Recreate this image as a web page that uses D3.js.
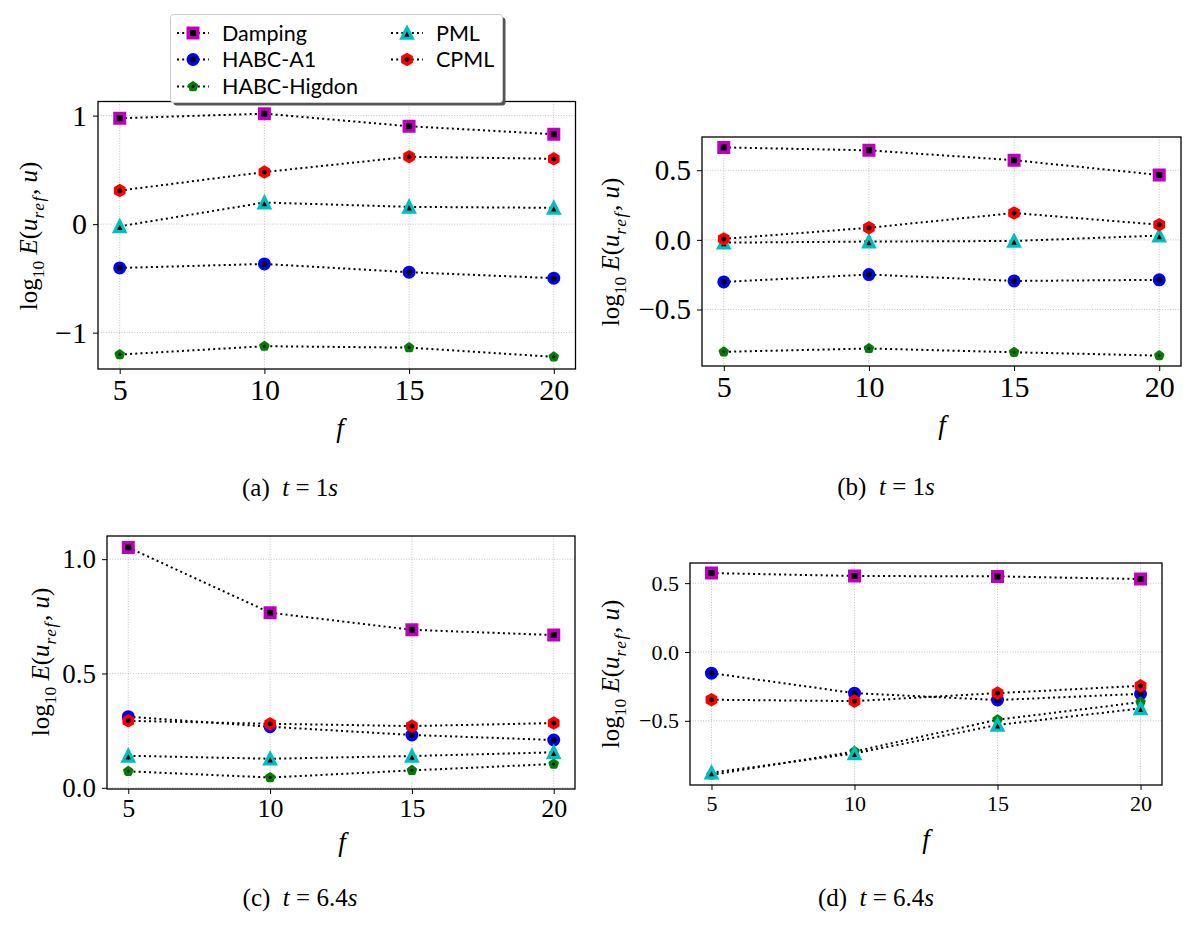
<!DOCTYPE html>
<html>
<head>
<meta charset="utf-8">
<script src="https://cdn.jsdelivr.net/npm/d3@7"></script>
<style>
  body { margin: 0; background: #fff; }
  text { fill: #000; }
</style>
</head>
<body>
<div id="chart"></div>
<script>
var svgWidth = 1195;
var svgHeight = 925;

// frequencies on the x axis
var freqs = [5, 10, 15, 20];
var methodNames = ["Damping", "HABC-A1", "HABC-Higdon", "PML", "CPML"];

// (a) t = 1s
var dampA = [0.976, 1.018, 0.902, 0.829];
var habcA1A = [-0.404, -0.367, -0.443, -0.498];
var higdonA = [-1.202, -1.125, -1.138, -1.223];
var pmlA = [-0.020, 0.199, 0.159, 0.150];
var cpmlA = [0.309, 0.480, 0.621, 0.602];

// (b) t = 1s
var dampB = [0.664, 0.643, 0.572, 0.466];
var habcA1B = [-0.302, -0.249, -0.295, -0.287];
var higdonB = [-0.804, -0.780, -0.807, -0.831];
var pmlB = [-0.020, -0.012, -0.008, 0.031];
var cpmlB = [0.007, 0.087, 0.193, 0.109];

// (c) t = 6.4s
var dampC = [1.051, 0.766, 0.691, 0.668];
var habcA1C = [0.311, 0.267, 0.231, 0.209];
var higdonC = [0.072, 0.045, 0.076, 0.104];
var pmlC = [0.140, 0.127, 0.139, 0.155];
var cpmlC = [0.293, 0.280, 0.270, 0.283];

// (d) t = 6.4s
var dampD = [0.573, 0.552, 0.549, 0.530];
var habcA1D = [-0.154, -0.299, -0.349, -0.304];
var higdonD = [-0.893, -0.723, -0.492, -0.364];
var pmlD = [-0.877, -0.737, -0.530, -0.410];
var cpmlD = [-0.347, -0.357, -0.299, -0.246];

// tick labels
var yTicksA = [-1, 0, 1];
var yTicksBD = [-0.5, 0.0, 0.5];
var yTicksC = [0.0, 0.5, 1.0];

var captions = [["(a)", "1"], ["(b)", "1"], ["(c)", "6.4"], ["(d)", "6.4"]];

// marker styles per method
var styles = [
  { color: "#bf00bf", shape: "square", size: 9.5, sw: 3.5 },
  { color: "#0000ff", shape: "circle", size: 9.5, sw: 3.5 },
  { color: "#008000", shape: "pentagon", size: 7.5, sw: 3.2 },
  { color: "#00bfbf", shape: "triangle", size: 10.5, sw: 3.2 },
  { color: "#ff0000", shape: "hexagon", size: 9.5, sw: 3.5 }
];

var serif = "'Liberation Serif', 'Times New Roman', Times, 'DejaVu Serif', serif";
var sans = "'Lato', 'Noto Sans', 'DejaVu Sans', sans-serif";

// panel layout
var panels = [
  { box: [98, 575.5, 101.5, 369], series: [dampA, habcA1A, higdonA, pmlA, cpmlA], yTicks: yTicksA, fmt: d3.format("d"),
    yfs: 30, xfs: 30, ylab: [28, 236], flab: [340, 437], cap: [290, 496] },
  { box: [702, 1181, 137, 366], series: [dampB, habcA1B, higdonB, pmlB, cpmlB], yTicks: yTicksBD, fmt: d3.format(".1f"),
    yfs: 29, xfs: 30, ylab: [610, 252], flab: [942, 434], cap: [886, 495] },
  { box: [107, 575, 536, 789], series: [dampC, habcA1C, higdonC, pmlC, cpmlC], yTicks: yTicksC, fmt: d3.format(".1f"),
    yfs: 27, xfs: 26, ylab: [40, 662], flab: [342, 851], cap: [300, 906] },
  { box: [690, 1162, 563, 785], series: [dampD, habcA1D, higdonD, pmlD, cpmlD], yTicks: yTicksBD, fmt: d3.format(".1f"),
    yfs: 22, xfs: 22, ylab: [610, 674], flab: [926, 848], cap: [876, 906] }
];

var svg = d3.select("#chart").append("svg")
  .attr("width", svgWidth)
  .attr("height", svgHeight);

// polygon path helper (matplotlib-like markers)
function markerPath(shape, s) {
  var r = s / 2;
  var pts;
  if (shape === "square") {
    pts = [[-r, -r], [r, -r], [r, r], [-r, r]];
  } else if (shape === "triangle") {
    pts = [[0, -r], [r, r], [-r, r]];
  } else if (shape === "pentagon" || shape === "hexagon") {
    var n = shape === "pentagon" ? 5 : 6;
    pts = d3.range(n).map(function(i) {
      var a = -Math.PI / 2 + i * 2 * Math.PI / n;
      return [r * Math.cos(a), r * Math.sin(a)];
    });
  } else {
    return d3.symbol().type(d3.symbolCircle).size(Math.PI * r * r)();
  }
  return "M" + pts.map(function(p) { return p.join(","); }).join("L") + "Z";
}

function drawMarker(g, x, y, st) {
  g.append("path")
    .attr("d", markerPath(st.shape, st.size))
    .attr("transform", "translate(" + x + "," + y + ")")
    .attr("fill", "#000")
    .attr("stroke", st.color)
    .attr("stroke-width", st.sw)
    .attr("stroke-linejoin", st.shape === "pentagon" ? "round" : "miter");
}

function yLabel(g, x, y, fs) {
  var t = g.append("text")
    .attr("transform", "translate(" + x + "," + y + ") rotate(-90)")
    .attr("text-anchor", "middle")
    .attr("dy", "0.35em")
    .attr("font-family", serif)
    .style("font-family", serif)
    .style("font-size", fs + "px");
  t.append("tspan").text("log");
  t.append("tspan").attr("dy", fs * 0.3).style("font-size", (fs * 0.7) + "px").text("10");
  t.append("tspan").attr("dy", -fs * 0.3).style("font-style", "italic").text(" E");
  t.append("tspan").text("(");
  t.append("tspan").style("font-style", "italic").text("u");
  t.append("tspan").attr("dy", fs * 0.3).style("font-size", (fs * 0.7) + "px").style("font-style", "italic")
    .attr("letter-spacing", "1.5px").text("ref");
  t.append("tspan").attr("dy", -fs * 0.3).text(", ");
  t.append("tspan").style("font-style", "italic").text("u");
  t.append("tspan").text(")");
}

panels.forEach(function(p, pi) {
  var x0 = p.box[0], x1 = p.box[1], y0 = p.box[2], y1 = p.box[3];
  var g = svg.append("g");

  // matplotlib-style 5% margins
  var allVals = d3.merge(p.series);
  var ext = d3.extent(allVals);
  var pad = (ext[1] - ext[0]) * 0.05;
  var xPad = (d3.max(freqs) - d3.min(freqs)) * 0.05;

  var xScale = d3.scaleLinear()
    .domain([d3.min(freqs) - xPad, d3.max(freqs) + xPad])
    .range([x0, x1]);
  var yScale = d3.scaleLinear()
    .domain([ext[0] - pad, ext[1] + pad])
    .range([y1, y0]);

  // grid
  var grid = g.append("g")
    .attr("stroke", "#b0b0b0")
    .attr("stroke-width", 0.8)
    .attr("stroke-dasharray", "1,1.6");
  freqs.forEach(function(f) {
    grid.append("line").attr("x1", xScale(f)).attr("x2", xScale(f)).attr("y1", y0).attr("y2", y1);
  });
  p.yTicks.forEach(function(t) {
    grid.append("line").attr("x1", x0).attr("x2", x1).attr("y1", yScale(t)).attr("y2", yScale(t));
  });

  // axes
  var xAxis = g.append("g")
    .attr("transform", "translate(0," + y1 + ")")
    .call(d3.axisBottom(xScale).tickValues(freqs).tickSize(5).tickPadding(5).tickFormat(d3.format("d")));
  var yAxis = g.append("g")
    .attr("transform", "translate(" + x0 + ",0)")
    .call(d3.axisLeft(yScale).tickValues(p.yTicks).tickSize(5).tickPadding(6)
      .tickFormat(function(d) { return p.fmt(d).replace("-", "\u2212"); }));
  [xAxis, yAxis].forEach(function(ax) {
    ax.attr("font-family", serif);
    ax.select(".domain").remove();
    ax.selectAll("line").attr("stroke", "#000").attr("stroke-width", 1);
    ax.selectAll("text").style("font-family", serif);
  });
  xAxis.selectAll("text").style("font-size", p.xfs + "px");
  yAxis.selectAll("text").style("font-size", p.yfs + "px");

  // series lines and markers
  p.series.forEach(function(vals, si) {
    var pts = freqs.map(function(f, i) { return [xScale(f), yScale(vals[i])]; });
    g.append("path")
      .attr("d", d3.line()(pts))
      .attr("fill", "none")
      .attr("stroke", "#000")
      .attr("stroke-width", 2)
      .attr("stroke-dasharray", "2,3.2");
    pts.forEach(function(pt) { drawMarker(g, pt[0], pt[1], styles[si]); });
  });

  // frame
  g.append("rect")
    .attr("x", x0).attr("y", y0)
    .attr("width", x1 - x0).attr("height", y1 - y0)
    .attr("fill", "none")
    .attr("stroke", "#000")
    .attr("stroke-width", 1.3);

  // labels
  yLabel(g, p.ylab[0], p.ylab[1], 25);
  g.append("text")
    .attr("x", p.flab[0]).attr("y", p.flab[1])
    .attr("text-anchor", "middle")
    .style("font-family", serif)
    .style("font-style", "italic")
    .style("font-size", "27px")
    .text("f");

  var cap = g.append("text")
    .attr("x", p.cap[0]).attr("y", p.cap[1])
    .attr("text-anchor", "middle")
    .style("font-family", serif)
    .style("font-size", "25px")
    .attr("xml:space", "preserve");
  cap.append("tspan").text(captions[pi][0] + "\u2002");
  cap.append("tspan").style("font-style", "italic").text("t");
  cap.append("tspan").text("\u2005=\u2005" + captions[pi][1]);
  cap.append("tspan").style("font-style", "italic").text("s");
});

// legend
var legend = svg.append("g");
legend.append("rect")
  .attr("x", 173.5).attr("y", 17.5)
  .attr("width", 332).attr("height", 88)
  .attr("rx", 3)
  .attr("fill", "#555");
legend.append("rect")
  .attr("x", 170.5).attr("y", 14.5)
  .attr("width", 332).attr("height", 88)
  .attr("rx", 3)
  .attr("fill", "#fff")
  .attr("stroke", "#ccc")
  .attr("stroke-width", 1);

var legendPos = [[177, 33], [177, 59.5], [177, 86.5], [391, 33], [391, 59.5]];
methodNames.forEach(function(name, i) {
  var lx = legendPos[i][0], ly = legendPos[i][1];
  legend.append("line")
    .attr("x1", lx).attr("x2", lx + 32)
    .attr("y1", ly).attr("y2", ly)
    .attr("stroke", "#000")
    .attr("stroke-width", 2)
    .attr("stroke-dasharray", "2,3.2");
  drawMarker(legend, lx + 16, ly, styles[i]);
  legend.append("text")
    .attr("x", lx + 45).attr("y", ly)
    .attr("dy", "0.36em")
    .style("font-family", sans)
    .style("font-size", "21.5px")
    .text(name);
});
</script>
</body>
</html>
